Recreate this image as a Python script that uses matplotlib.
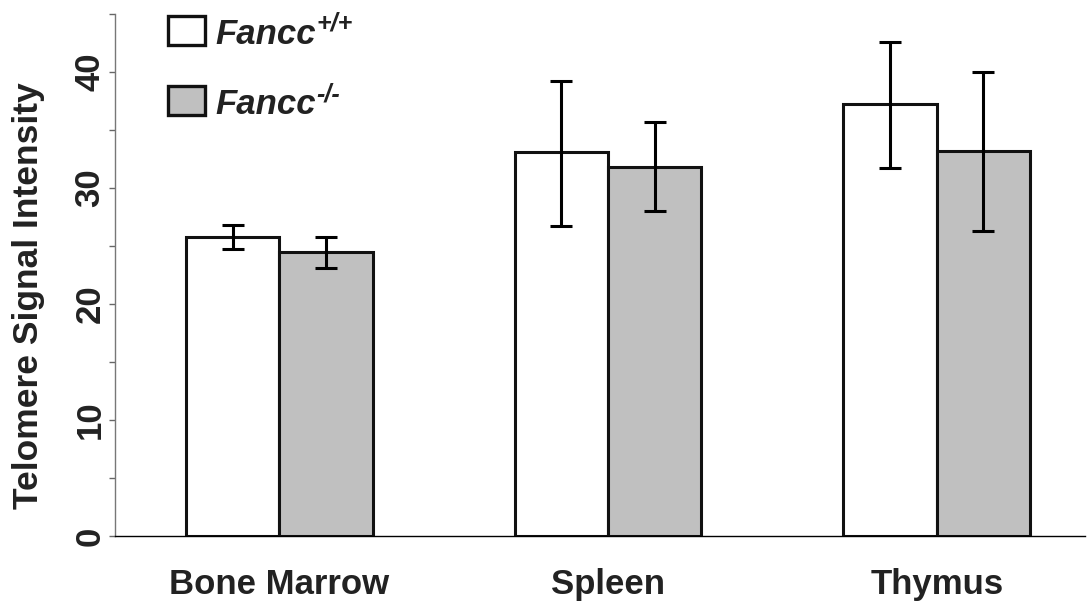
import matplotlib.pyplot as plt
import numpy as np
from matplotlib.patches import Rectangle

plt.rcParams['font.family'] = ['Liberation Sans', 'DejaVu Sans']

tejidos = ['Bone Marrow', 'Spleen', 'Thymus']
wt = [25.8, 33.1, 37.2]
wt_alto = [26.8, 39.2, 42.6]
wt_bajo = [24.7, 26.7, 31.7]
ko = [24.5, 31.8, 33.2]
ko_alto = [25.8, 35.7, 40.0]
ko_bajo = [23.1, 28.0, 26.3]

fig = plt.figure(figsize=(10.89, 6.07), dpi=100)
ax = fig.add_axes([0.1056, 0.117, 0.8904, 0.860])

x = np.arange(len(tejidos))
w = 0.284
err_wt = [np.array(wt) - np.array(wt_bajo), np.array(wt_alto) - np.array(wt)]
err_ko = [np.array(ko) - np.array(ko_bajo), np.array(ko_alto) - np.array(ko)]

ax.bar(x - w/2, wt, w, color='white', edgecolor='#111111', linewidth=2.2, zorder=2)
ax.bar(x + w/2, ko, w, color='#c0c0c0', edgecolor='#111111', linewidth=2.2, zorder=2)
ax.errorbar(x - w/2, wt, yerr=err_wt, fmt='none', ecolor='black', elinewidth=2.2,
            capsize=8, capthick=2.2, zorder=3)
ax.errorbar(x + w/2, ko, yerr=err_ko, fmt='none', ecolor='black', elinewidth=2.2,
            capsize=8, capthick=2.2, zorder=3)

ax.set_xlim(-0.5, 2.45)
ax.set_ylim(0, 45)
ax.set_yticks([0, 10, 20, 30, 40])
ax.set_yticks([5, 15, 25, 35, 45], minor=True)
ax.set_xticks(x)
ax.set_xticklabels(tejidos, fontsize=25, fontweight='bold', color='#222222')
ax.tick_params(axis='x', length=0, pad=23)
ax.tick_params(axis='y', which='both', direction='out', length=4, width=1,
               color='#666666', pad=2)
for t in ax.get_yticklabels():
    t.set_rotation(90)
    t.set_va('center')
    t.set_fontsize(25)
    t.set_fontweight('bold')
    t.set_color('#222222')

for s in ['top', 'right']:
    ax.spines[s].set_visible(False)
ax.spines['left'].set_color('#777777')
ax.spines['left'].set_linewidth(1)
ax.spines['bottom'].set_color('black')
ax.spines['bottom'].set_linewidth(1)

ax.set_ylabel('Telomere Signal Intensity', fontsize=25.5, fontweight='bold',
              color='#222222')
ax.yaxis.set_label_coords(-0.072, 0.46)

# leyenda a mano
for (y0, col, sup) in [(0.941, 'white', '+/+'), (0.806, '#c0c0c0', '-/-')]:
    ax.add_patch(Rectangle((0.055, y0), 0.038, 0.056, transform=ax.transAxes,
                           facecolor=col, edgecolor='#111111', linewidth=2.4,
                           clip_on=False))
    t = ax.text(0.104, y0 + 0.02, 'Fancc', transform=ax.transAxes, fontsize=25,
                fontweight='bold', fontstyle='italic', va='center', color='#222222')
    ax.annotate(sup, xy=(1, 0.45), xycoords=t, fontsize=18, fontweight='bold',
                fontstyle='italic', va='bottom', ha='left', color='#222222')

fig.savefig('out.png', dpi=100)
